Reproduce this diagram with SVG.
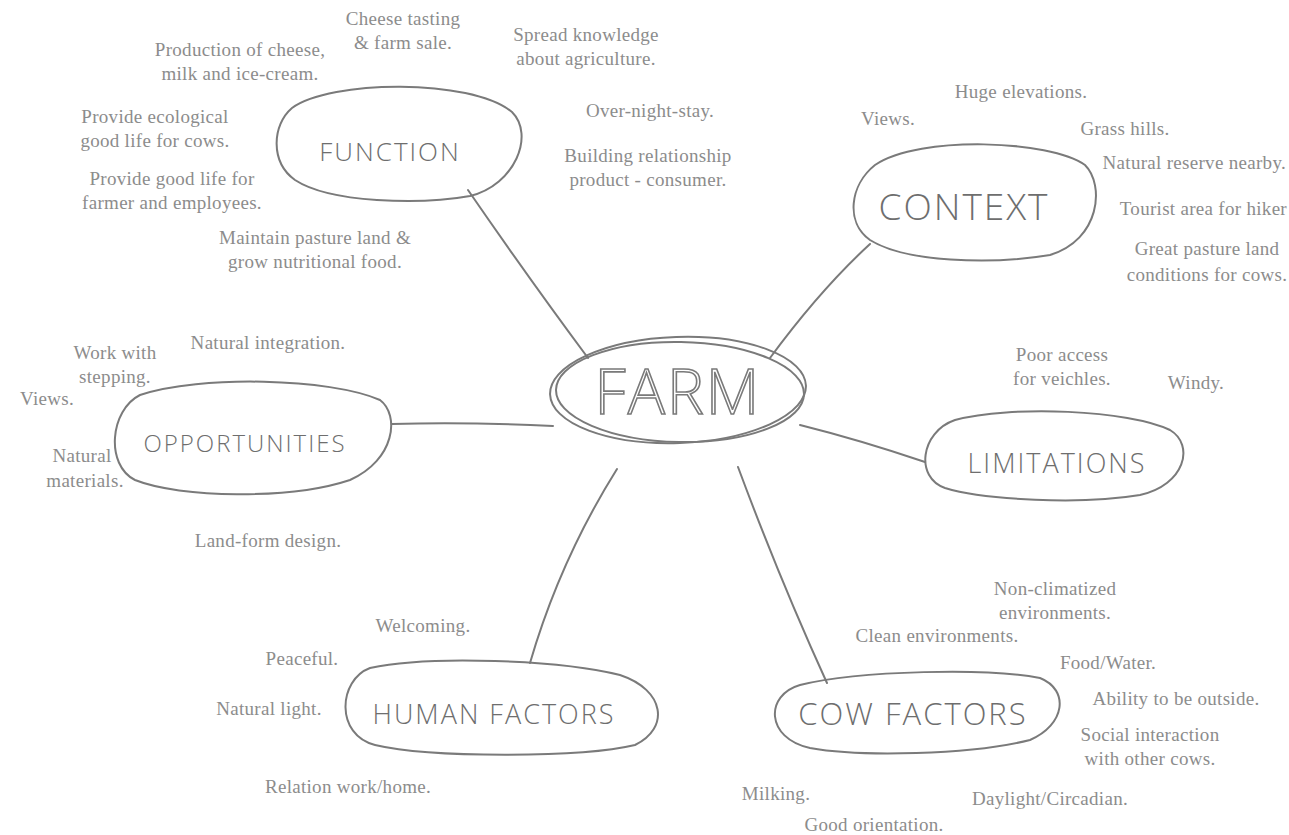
<svg xmlns="http://www.w3.org/2000/svg" width="1289" height="835" viewBox="0 0 1289 835">
<style>
.bg{fill:#ffffff}
.n{fill:none;stroke:#7a7a7a;stroke-width:2;stroke-linecap:round;stroke-linejoin:round}
.c{fill:none;stroke:#7a7a7a;stroke-width:2;stroke-linecap:round}
.lbl{font-family:"Open Sans","Liberation Sans",sans-serif;font-weight:300;fill:#6e6e6e;text-anchor:middle;letter-spacing:2px}
.farm{font-family:"Open Sans","Liberation Sans",sans-serif;font-weight:300;fill:#ffffff;stroke:#7a7a7a;stroke-width:1.6;text-anchor:middle;font-size:62px;letter-spacing:2px}
.t{font-family:"Liberation Serif","Times New Roman",serif;font-size:19px;fill:#8c8c8c;text-anchor:middle;letter-spacing:0.3px}
.e{text-anchor:end}
</style>
<rect class="bg" x="0" y="0" width="1289" height="835"/>
<g id="connectors">
<path class="c" d="M468,190 Q530,280 588,358"/>
<path class="c" d="M870,244 Q820,290 770,358"/>
<path class="c" d="M392,424 Q470,422 553,426"/>
<path class="c" d="M800,425 Q860,440 925,462"/>
<path class="c" d="M617,469 Q560,560 530,663"/>
<path class="c" d="M738,467 Q780,580 827,683"/>
</g>
<g id="farm">
<ellipse class="n" cx="678" cy="390" rx="128" ry="53" transform="rotate(-2 678 390)"/>
<ellipse class="n" cx="680" cy="392" rx="124" ry="50" transform="rotate(1 680 392)"/>
<text class="farm" x="678" y="414">FARM</text>
</g>
<g id="function">
<path class="n" d="M292,108 C330,80 470,78 512,112 C535,135 515,185 470,196 C420,205 330,203 295,180 C270,162 272,125 292,108 Z"/>
<text class="lbl" x="390" y="161" font-size="26">FUNCTION</text>
</g>
<g id="context">
<path class="n" d="M875,165 C920,135 1050,140 1085,165 C1105,185 1100,240 1050,255 C990,265 905,262 870,240 C845,222 850,185 875,165 Z"/>
<text class="lbl" x="964" y="220" font-size="37">CONTEXT</text>
</g>
<g id="opportunities">
<path class="n" d="M140,395 C200,375 330,378 380,400 C400,415 395,460 350,480 C290,500 180,498 135,480 C105,465 110,410 140,395 Z"/>
<text class="lbl" x="245" y="452" font-size="24">OPPORTUNITIES</text>
</g>
<g id="limitations">
<path class="n" d="M955,420 C1010,405 1130,410 1170,430 C1195,445 1185,485 1140,495 C1080,505 985,500 945,488 C915,478 920,432 955,420 Z"/>
<text class="lbl" x="1057" y="473" font-size="27">LIMITATIONS</text>
</g>
<g id="human-factors">
<path class="n" d="M370,668 C430,655 560,660 620,675 C665,690 670,728 635,745 C580,758 430,758 375,745 C335,735 338,680 370,668 Z"/>
<text class="lbl" x="494" y="724" font-size="27">HUMAN FACTORS</text>
</g>
<g id="cow-factors">
<path class="n" d="M800,685 C860,670 990,668 1040,678 C1070,690 1065,725 1030,740 C970,755 860,757 810,748 C765,738 765,695 800,685 Z"/>
<text class="lbl" x="913" y="725" font-size="31">COW FACTORS</text>
</g>
<g id="texts">
<text class="t" x="403" y="25">Cheese tasting</text>
<text class="t" x="403" y="49">&amp; farm sale.</text>
<text class="t" x="240" y="56">Production of cheese,</text>
<text class="t" x="240" y="80">milk and ice-cream.</text>
<text class="t" x="586" y="41">Spread knowledge</text>
<text class="t" x="586" y="65">about agriculture.</text>
<text class="t" x="155" y="123">Provide ecological</text>
<text class="t" x="155" y="147">good life for cows.</text>
<text class="t" x="650" y="117">Over-night-stay.</text>
<text class="t" x="648" y="162">Building relationship</text>
<text class="t" x="648" y="186">product - consumer.</text>
<text class="t" x="172" y="185">Provide good life for</text>
<text class="t" x="172" y="209">farmer and employees.</text>
<text class="t" x="315" y="244">Maintain pasture land &amp;</text>
<text class="t" x="315" y="268">grow nutritional food.</text>
<text class="t" x="888" y="125">Views.</text>
<text class="t" x="1021" y="98">Huge elevations.</text>
<text class="t" x="1125" y="135">Grass hills.</text>
<text class="t e" x="1286" y="169">Natural reserve nearby.</text>
<text class="t e" x="1287" y="215">Tourist area for hiker</text>
<text class="t" x="1207" y="255">Great pasture land</text>
<text class="t" x="1207" y="281">conditions for cows.</text>
<text class="t" x="115" y="359">Work with</text>
<text class="t" x="115" y="383">stepping.</text>
<text class="t" x="268" y="349">Natural integration.</text>
<text class="t" x="47" y="405">Views.</text>
<text class="t" x="82" y="462">Natural</text>
<text class="t" x="85" y="487">materials.</text>
<text class="t" x="268" y="547">Land-form design.</text>
<text class="t" x="1062" y="361">Poor access</text>
<text class="t" x="1062" y="385">for veichles.</text>
<text class="t" x="1196" y="389">Windy.</text>
<text class="t" x="1055" y="595">Non-climatized</text>
<text class="t" x="1055" y="619">environments.</text>
<text class="t" x="937" y="642">Clean environments.</text>
<text class="t" x="1108" y="669">Food/Water.</text>
<text class="t" x="1176" y="705">Ability to be outside.</text>
<text class="t" x="1150" y="741">Social interaction</text>
<text class="t" x="1150" y="765">with other cows.</text>
<text class="t" x="1050" y="805">Daylight/Circadian.</text>
<text class="t" x="776" y="800">Milking.</text>
<text class="t" x="874" y="831">Good orientation.</text>
<text class="t" x="423" y="632">Welcoming.</text>
<text class="t" x="302" y="665">Peaceful.</text>
<text class="t" x="269" y="715">Natural light.</text>
<text class="t" x="348" y="793">Relation work/home.</text>
</g>
</svg>
